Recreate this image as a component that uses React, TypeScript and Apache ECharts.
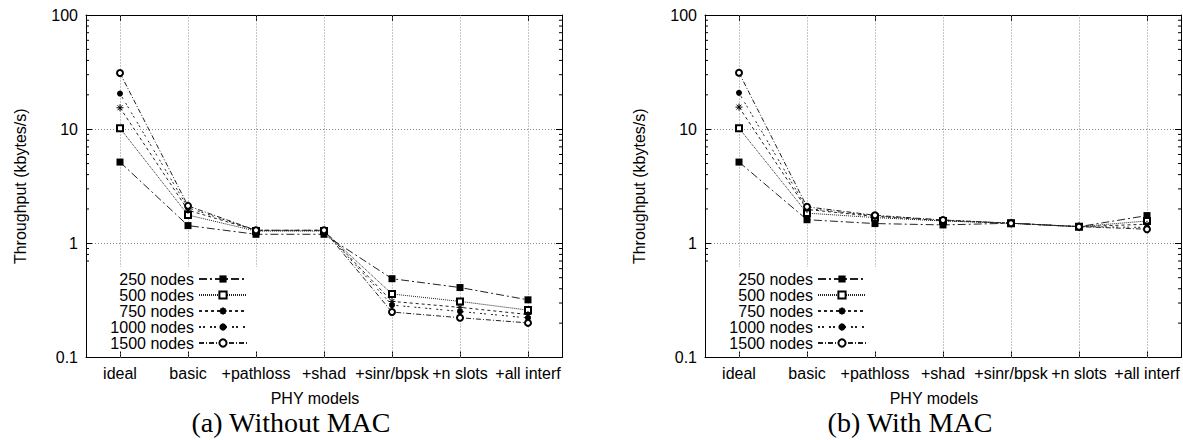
import React, { useEffect, useRef } from "react";
import * as echarts from "echarts";

const categories = ["ideal", "basic", "+pathloss", "+shad", "+sinr/bpsk", "+n slots", "+all interf"];
const seriesNames = ["250 nodes", "500 nodes", "750 nodes", "1000 nodes", "1500 nodes"];

// (a) Without MAC
const noMac250 = [5.15, 1.43, 1.2, 1.2, 0.49, 0.41, 0.32];
const noMac500 = [10.2, 1.77, 1.28, 1.28, 0.36, 0.31, 0.26];
const noMac750 = [15.4, 1.95, 1.3, 1.3, 0.31, 0.275, 0.238];
const noMac1000 = [20.5, 2.05, 1.3, 1.3, 0.288, 0.253, 0.222];
const noMac1500 = [31, 2.13, 1.3, 1.3, 0.25, 0.223, 0.201];

// (b) With MAC
const mac250 = [5.15, 1.61, 1.49, 1.45, 1.5, 1.4, 1.75];
const mac500 = [10.2, 1.84, 1.68, 1.57, 1.5, 1.4, 1.57];
const mac750 = [15.6, 1.98, 1.72, 1.58, 1.5, 1.4, 1.47];
const mac1000 = [20.8, 2.02, 1.74, 1.6, 1.5, 1.4, 1.38];
const mac1500 = [31.2, 2.09, 1.76, 1.6, 1.5, 1.4, 1.33];

const minorTicks = [0.2, 0.3, 0.4, 0.5, 0.6, 0.7, 0.8, 0.9, 2, 3, 4, 5, 6, 7, 8, 9, 20, 30, 40, 50, 60, 70, 80, 90];

const SANS = "'Liberation Sans', Arial, Helvetica, sans-serif";
const SERIF = "'Liberation Serif', 'Times New Roman', serif";

const styles = [
  { symbol: "rect", size: 7, dash: [8, 3, 2, 3], border: 0 },
  { symbol: "emptyRect", size: 6, dash: [1, 1], border: 1 },
  { symbol: "path://M5,0L5,10M0,5L10,5M1.5,1.5L8.5,8.5M8.5,1.5L1.5,8.5", size: 7, dash: [3, 3], border: 1 },
  { symbol: "circle", size: 6, dash: [2, 2, 2, 5], border: 0 },
  { symbol: "emptyCircle", size: 6, dash: [5, 2, 1, 2], border: 1 },
];

export default function App() {
  const ref = useRef<HTMLDivElement>(null);
  useEffect(() => {
    if (!ref.current) return;
    const chart = echarts.init(ref.current, undefined, { renderer: "svg" });
    const gridDefs = [
      { left: 86, top: 15, width: 476, height: 342.5 },
      { left: 705, top: 15, width: 476, height: 342.5 },
    ];
    const dataSets = [
      [noMac250, noMac500, noMac750, noMac1000, noMac1500],
      [mac250, mac500, mac750, mac1000, mac1500],
    ];
    const xAxes: any[] = [];
    const yAxes: any[] = [];
    const series: any[] = [];
    const legends: any[] = [];
    const graphics: any[] = [];
    gridDefs.forEach((g, gi) => {
      xAxes.push({
        type: "category",
        gridIndex: gi,
        data: categories,
        boundaryGap: true,
        position: "bottom",
        axisLine: { lineStyle: { color: "#000", width: 1 } },
        axisTick: { show: true, inside: true, length: 6, alignWithLabel: true, lineStyle: { color: "#000" } },
        axisLabel: { interval: 0, hideOverlap: false, color: "#000", fontSize: 16, fontFamily: SANS, margin: 8 },
        splitLine: { show: false },
      });
      xAxes.push({
        type: "category",
        gridIndex: gi,
        data: categories,
        boundaryGap: true,
        position: "top",
        axisLine: { lineStyle: { color: "#000", width: 1 } },
        axisTick: { show: true, inside: true, length: 6, alignWithLabel: true, lineStyle: { color: "#000" } },
        axisLabel: { show: false },
        splitLine: { show: false },
      });
      yAxes.push({
        type: "log",
        logBase: 10,
        gridIndex: gi,
        min: 0.1,
        max: 100,
        position: "left",
        axisLine: { show: true, lineStyle: { color: "#000", width: 1 } },
        axisTick: { show: true, inside: true, length: 6, lineStyle: { color: "#000" } },
        axisLabel: { color: "#000", fontSize: 16, fontFamily: SANS, margin: 8 },
        splitLine: { show: true, lineStyle: { color: "#888", type: [1, 2], width: 1 } },
      });
      yAxes.push({
        type: "log",
        logBase: 10,
        gridIndex: gi,
        min: 0.1,
        max: 100,
        position: "right",
        axisLine: { show: true, lineStyle: { color: "#000", width: 1 } },
        axisTick: { show: true, inside: true, length: 6, lineStyle: { color: "#000" } },
        axisLabel: { show: false },
        splitLine: { show: false },
      });
      dataSets[gi].forEach((vals, si) => {
        const st = styles[si];
        const s: any = {
          type: "line",
          name: seriesNames[si],
          xAxisIndex: gi * 2,
          yAxisIndex: gi * 2,
          data: vals,
          symbol: st.symbol,
          symbolSize: st.size,
          showAllSymbol: true,
          lineStyle: { color: "#222", width: 1, type: st.dash },
          itemStyle: { color: "#000", borderColor: "#000", borderWidth: st.border },
          emphasis: { disabled: true },
          z: 3,
        };
        if (si === 0) {
          s.markLine = {
            silent: true,
            symbol: ["none", "none"],
            label: { show: false },
            lineStyle: { color: "#888", type: [1, 2], width: 1 },
            data: categories.map((c) => ({ xAxis: c })),
            z: 1,
          };
        }
        series.push(s);
      });
      series.push({
        type: "custom",
        xAxisIndex: gi * 2,
        yAxisIndex: gi * 2,
        silent: true,
        data: minorTicks.map((v) => [0, v]),
        encode: { x: 0, y: 1 },
        z: 2,
        renderItem: (params: any, api: any) => {
          const pt = api.coord([0, api.value(1)]);
          const cs = params.coordSys;
          return {
            type: "group",
            children: [
              { type: "line", shape: { x1: cs.x, y1: pt[1], x2: cs.x + 3, y2: pt[1] }, style: { stroke: "#000", lineWidth: 1 } },
              { type: "line", shape: { x1: cs.x + cs.width - 3, y1: pt[1], x2: cs.x + cs.width, y2: pt[1] }, style: { stroke: "#000", lineWidth: 1 } },
            ],
          };
        },
      });
      legends.push({
        show: true,
        orient: "vertical",
        align: "right",
        left: g.left + 1,
        top: 267,
        padding: [4, 15, 0, 17],
        itemGap: 0,
        itemWidth: 48,
        itemHeight: 9,
        backgroundColor: "#fff",
        selectedMode: false,
        data: seriesNames,
        formatter: "{t|{name}}",
        textStyle: {
          color: "#000",
          fontSize: 16,
          fontFamily: SANS,
          rich: { t: { width: 90, align: "right", fontSize: 16, fontFamily: SANS, lineHeight: 16, color: "#000" } },
        },
      });
      const cx = g.left + g.width / 2;
      graphics.push({
        type: "text",
        x: g.left - 66,
        y: g.top + g.height / 2,
        rotation: Math.PI / 2,
        style: { text: "Throughput (kbytes/s)", font: `16px ${SANS}`, fill: "#000", align: "center", verticalAlign: "middle" },
      });
      graphics.push({
        type: "text",
        x: cx - 9,
        y: 398,
        style: { text: "PHY models", font: `16px ${SANS}`, fill: "#000", align: "center", verticalAlign: "middle" },
      });
      graphics.push({
        type: "text",
        x: g.left + 205,
        y: 422,
        style: { text: gi === 0 ? "(a) Without MAC" : "(b) With MAC", font: `28px ${SERIF}`, fill: "#000", align: "center", verticalAlign: "middle" },
      });
    });
    chart.setOption({
      animation: false,
      backgroundColor: "#fff",
      grid: gridDefs.map((g) => ({ ...g, containLabel: false })),
      xAxis: xAxes,
      yAxis: yAxes,
      legend: legends,
      series,
      graphic: graphics,
    });
    return () => chart.dispose();
  }, []);
  return <div ref={ref} style={{ position: "fixed", left: 0, top: 0, width: 1183, height: 440 }} />;
}
